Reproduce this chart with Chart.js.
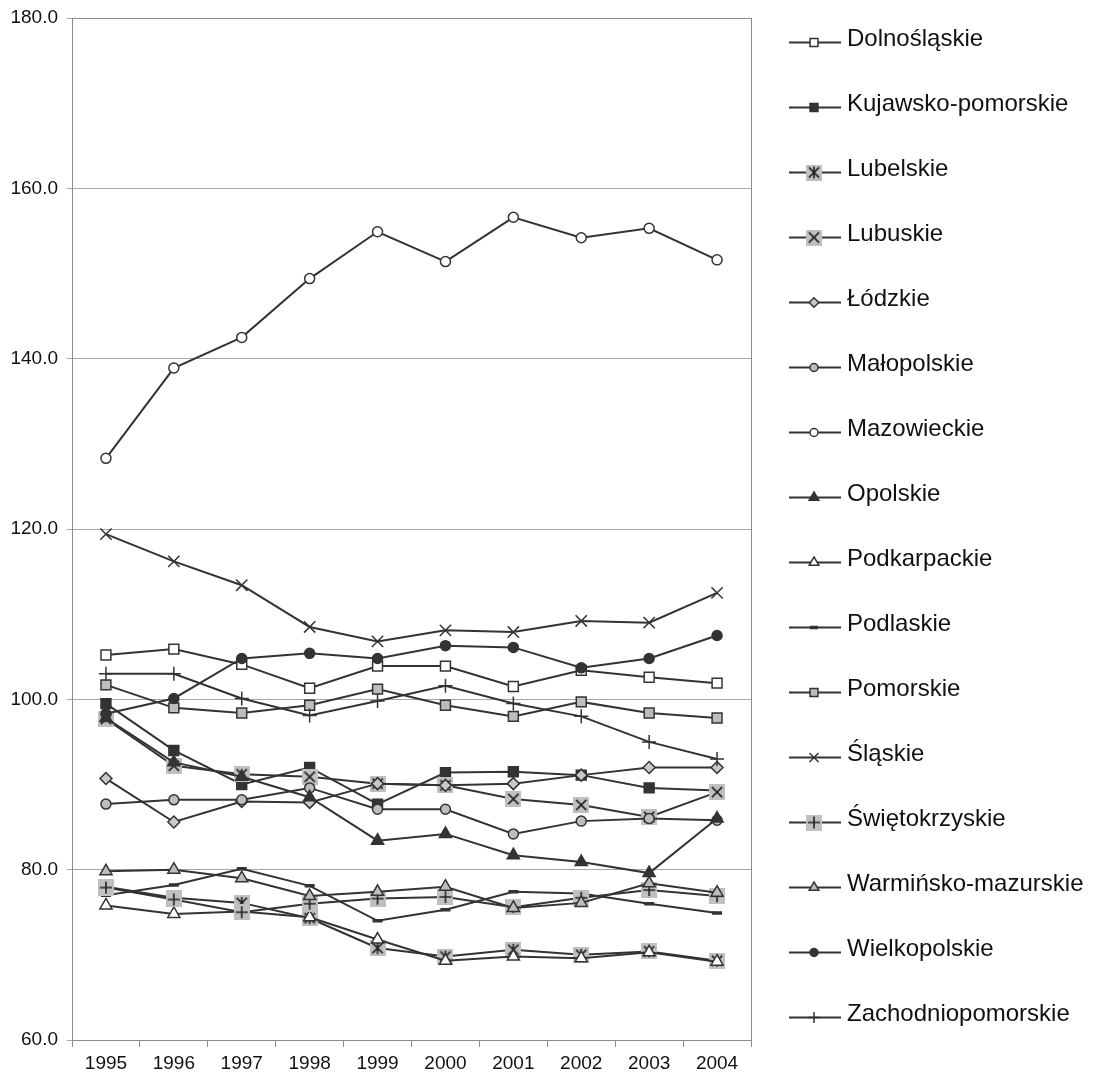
<!DOCTYPE html>
<html>
<head>
<meta charset="utf-8">
<script src="https://cdn.jsdelivr.net/npm/chart.js@4/dist/chart.umd.min.js"></script>
<style>
  html, body { margin: 0; padding: 0; background: #fff; }
  #wrap { width: 1101px; height: 1082px; position: relative; }
</style>
</head>
<body>
<div id="wrap"><canvas id="chart" width="1101" height="1082"></canvas></div>
<script>
const years = ['1995', '1996', '1997', '1998', '1999', '2000', '2001', '2002', '2003', '2004'];

const regions = ['Dolnośląskie', 'Kujawsko-pomorskie', 'Lubelskie', 'Lubuskie', 'Łódzkie', 'Małopolskie',
  'Mazowieckie', 'Opolskie', 'Podkarpackie', 'Podlaskie', 'Pomorskie', 'Śląskie', 'Świętokrzyskie',
  'Warmińsko-mazurskie', 'Wielkopolskie', 'Zachodniopomorskie'];

const dolnoslaskie = [105.2, 105.9, 104.1, 101.3, 103.9, 103.9, 101.5, 103.4, 102.6, 101.9];
const kujawsko = [99.5, 94.0, 90.0, 92.0, 87.7, 91.4, 91.5, 91.1, 89.6, 89.3];
const lubelskie = [78.0, 76.7, 76.1, 74.3, 70.8, 69.8, 70.6, 70.0, 70.4, 69.3];
const lubuskie = [97.7, 92.2, 91.2, 90.9, 90.1, 89.9, 88.3, 87.6, 86.2, 89.1];
const lodzkie = [90.7, 85.6, 88.0, 87.9, 90.1, 89.9, 90.1, 91.1, 92.0, 92.0];
const malopolskie = [87.7, 88.2, 88.2, 89.6, 87.1, 87.1, 84.2, 85.7, 86.0, 85.8];
const mazowieckie = [128.3, 138.9, 142.5, 149.4, 154.9, 151.4, 156.6, 154.2, 155.3, 151.6];
const opolskie = [97.8, 92.6, 90.9, 88.5, 83.4, 84.2, 81.7, 80.9, 79.6, 86.0];
const podkarpackie = [75.8, 74.8, 75.1, 74.4, 71.8, 69.3, 69.8, 69.6, 70.3, 69.2];
const podlaskie = [77.0, 78.2, 80.1, 78.1, 74.0, 75.3, 77.4, 77.2, 76.0, 74.9];
const pomorskie = [101.7, 99.0, 98.4, 99.3, 101.2, 99.3, 98.0, 99.7, 98.4, 97.8];
const slaskie = [119.4, 116.2, 113.4, 108.5, 106.8, 108.1, 107.9, 109.2, 109.0, 112.5];
const swietokrzyskie = [77.9, 76.5, 75.0, 76.0, 76.6, 76.8, 75.6, 76.7, 77.6, 76.9];
const warminsko = [79.8, 80.0, 79.0, 76.9, 77.4, 78.0, 75.5, 76.1, 78.4, 77.3];
const wielkopolskie = [98.3, 100.1, 104.8, 105.4, 104.8, 106.3, 106.1, 103.7, 104.8, 107.5];
const zachodniopomorskie = [103.0, 103.0, 100.1, 98.1, 99.8, 101.6, 99.5, 98.0, 95.0, 93.0];

const yTicks = [60, 80, 100, 120, 140, 160, 180];

const DARK = '#333333';
const FONT = '"Liberation Sans", Arial, sans-serif';

// gray square marker with a symbol drawn on it
function boxMarker(kind, size) {
  const c = document.createElement('canvas');
  c.width = size; c.height = size;
  const g = c.getContext('2d');
  g.fillStyle = '#c0c0c0';
  g.fillRect(0, 0, size, size);
  g.strokeStyle = '#222';
  g.lineWidth = 1.6;
  const m = size / 2, a = size * 0.32;
  g.beginPath();
  if (kind.includes('x')) {
    g.moveTo(m - a, m - a); g.lineTo(m + a, m + a);
    g.moveTo(m + a, m - a); g.lineTo(m - a, m + a);
  }
  if (kind.includes('|')) {
    g.moveTo(m, m - a - 1); g.lineTo(m, m + a + 1);
  }
  if (kind.includes('-')) {
    g.moveTo(m - a - 1, m); g.lineTo(m + a + 1, m);
  }
  g.stroke();
  return c;
}

const styles = [
  { pointStyle: 'rect', radius: 7, bg: '#ffffff' },
  { pointStyle: 'rect', radius: 7, bg: DARK },
  { pointStyle: boxMarker('x|', 16), radius: 8, bg: DARK },
  { pointStyle: boxMarker('x', 16), radius: 8, bg: DARK },
  { pointStyle: 'rectRot', radius: 6, bg: '#c8c8c8' },
  { pointStyle: 'circle', radius: 5, bg: '#bdbdbd' },
  { pointStyle: 'circle', radius: 5, bg: '#ffffff' },
  { pointStyle: 'triangle', radius: 7, bg: DARK },
  { pointStyle: 'triangle', radius: 7, bg: '#ffffff' },
  { pointStyle: 'line', radius: 5, bg: DARK, bw: 3.5 },
  { pointStyle: 'rect', radius: 7, bg: '#bdbdbd' },
  { pointStyle: 'crossRot', radius: 8, bg: DARK },
  { pointStyle: boxMarker('|-', 16), radius: 8, bg: DARK },
  { pointStyle: 'triangle', radius: 7, bg: '#bdbdbd' },
  { pointStyle: 'circle', radius: 5, bg: DARK },
  { pointStyle: 'cross', radius: 7, bg: DARK }
];

const series = [dolnoslaskie, kujawsko, lubelskie, lubuskie, lodzkie, malopolskie, mazowieckie, opolskie,
  podkarpackie, podlaskie, pomorskie, slaskie, swietokrzyskie, warminsko, wielkopolskie, zachodniopomorskie];

const datasets = series.map((data, i) => ({
  label: regions[i],
  data: data,
  borderColor: DARK,
  borderWidth: 2,
  tension: 0,
  pointStyle: styles[i].pointStyle,
  pointRadius: styles[i].radius,
  pointBackgroundColor: styles[i].bg,
  pointBorderColor: DARK,
  pointBorderWidth: styles[i].bw || 1.5,
  order: series.length - i
}));

// frame round the plot area
const framePlugin = {
  id: 'frame',
  beforeDatasetsDraw(chart) {
    const a = chart.chartArea, ctx = chart.ctx;
    ctx.save();
    ctx.strokeStyle = '#8c8c8c';
    ctx.lineWidth = 1;
    ctx.strokeRect(a.left + 0.5, a.top + 0.5, a.right - a.left, a.bottom - a.top);
    ctx.restore();
  }
};

// legend on the right: line sample, marker, label
const legendPlugin = {
  id: 'sideLegend',
  afterDraw(chart) {
    const ctx = chart.ctx;
    ctx.save();
    chart.data.datasets.forEach((ds, i) => {
      const y = 42.5 + i * 65;
      ctx.strokeStyle = DARK;
      ctx.lineWidth = 2;
      ctx.beginPath();
      ctx.moveTo(789, y);
      ctx.lineTo(841, y);
      ctx.stroke();
      ctx.fillStyle = ds.pointBackgroundColor;
      ctx.strokeStyle = DARK;
      ctx.lineWidth = ds.pointBorderWidth;
      const isImg = typeof ds.pointStyle !== 'string';
      Chart.helpers.drawPoint(ctx, {
        pointStyle: ds.pointStyle,
        radius: isImg ? ds.pointRadius : ds.pointRadius * 0.8,
        rotation: 0,
        borderWidth: ds.pointBorderWidth
      }, 814, y);
      ctx.fillStyle = '#111';
      ctx.font = '24px ' + FONT;
      ctx.textBaseline = 'middle';
      ctx.textAlign = 'left';
      ctx.fillText(ds.label, 847, y - 3);
    });
    ctx.restore();
  }
};

new Chart(document.getElementById('chart'), {
  type: 'line',
  data: { labels: years, datasets: datasets },
  options: {
    responsive: false,
    animation: false,
    layout: { padding: { top: 18, right: 350, bottom: 0, left: 0 } },
    plugins: {
      legend: { display: false },
      tooltip: { enabled: false }
    },
    scales: {
      x: {
        offset: true,
        afterFit(scale) { scale.height = 42; },
        grid: { offset: true, drawOnChartArea: false, color: '#8c8c8c', tickLength: 7 },
        border: { color: '#8c8c8c' },
        ticks: {
          color: '#111',
          font: { family: FONT, size: 19 },
          padding: 5,
          maxRotation: 0
        }
      },
      y: {
        min: 60,
        max: 180,
        afterFit(scale) {
          scale.width = 72;
          scale.paddingTop = 0;
          scale.paddingBottom = 0;
        },
        afterBuildTicks(scale) { scale.ticks = yTicks.map(v => ({ value: v })); },
        grid: { color: '#a6a6a6', tickLength: 5 },
        border: { color: '#8c8c8c' },
        ticks: {
          color: '#111',
          font: { family: FONT, size: 19 },
          padding: 9,
          callback: v => v.toFixed(1)
        }
      }
    }
  },
  plugins: [framePlugin, legendPlugin]
});
</script>
</body>
</html>
